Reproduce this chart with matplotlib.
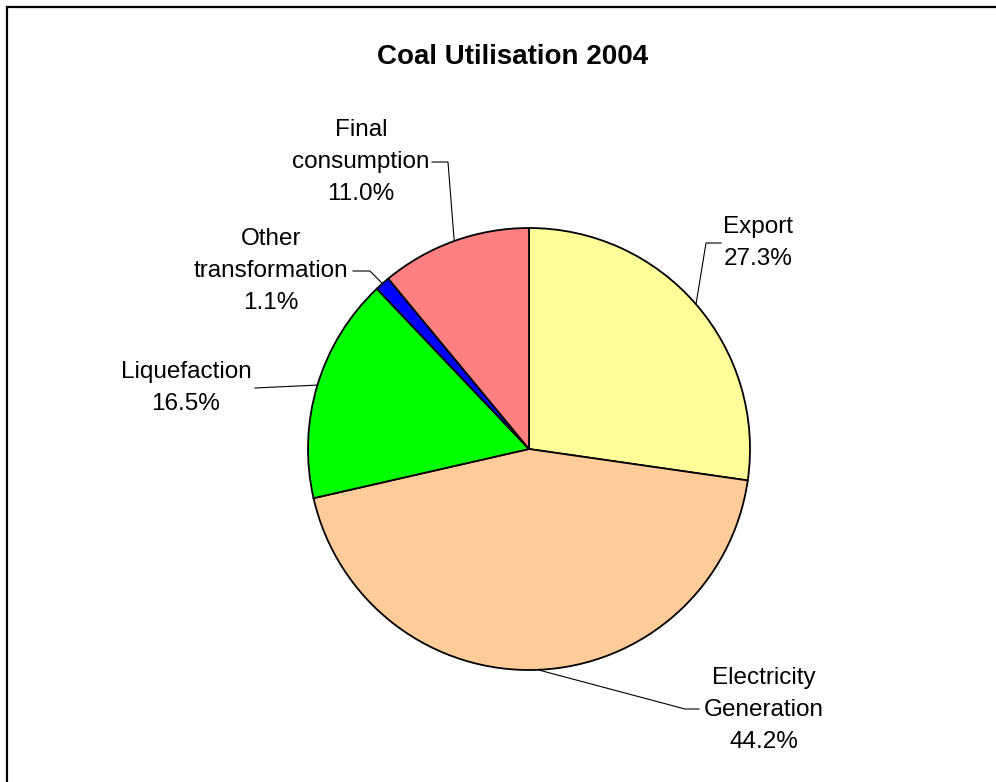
"""Coal Utilisation 2004 pie chart"""
import numpy as np
import matplotlib
matplotlib.use("Agg")
import matplotlib.pyplot as plt
from matplotlib.patches import Rectangle

categories = ["Export", "Electricity\nGeneration", "Liquefaction",
              "Other\ntransformation", "Final\nconsumption"]
shares = [27.3, 44.2, 16.5, 1.1, 11.0]
colors = ["#FFFF99", "#FFCC99", "#00FF00", "#0000FF", "#FF8080"]

W, H = 996, 782


def px(x, y):
    # pixel position (top-left origin) -> data coords
    return x, H - y


fig = plt.figure(figsize=(W / 100, H / 100), dpi=100)
ax = fig.add_axes([0, 0, 1, 1])

center = px(529, 449)
radius = 221
wedges, _ = ax.pie(shares, colors=colors, startangle=90, counterclock=False,
                   center=center, radius=radius, frame=True,
                   wedgeprops=dict(edgecolor="k", linewidth=1.3))
ax.set_xlim(0, W)
ax.set_ylim(0, H)
ax.axis("off")

# label centre, elbow point, end of horizontal tick
layout = [
    ((758, 243), (706, 243), (721, 243)),
    ((764, 710), (685, 709), (699, 709)),
    ((186, 388), (255, 388), (255, 388)),
    ((271, 271), (370, 271), (353, 271)),
    ((361, 162), (448, 162), (432, 162)),
]

font = dict(family=["Liberation Sans", "DejaVu Sans"], fontsize=17.5)
for w, name, share, (lab, elbow, tick) in zip(wedges, categories, shares,
                                              layout):
    mid = np.deg2rad((w.theta1 + w.theta2) / 2)
    x0 = center[0] + radius * np.cos(mid)
    y0 = center[1] + radius * np.sin(mid)
    ex, ey = px(*elbow)
    tx, ty = px(*tick)
    ax.plot([x0, ex, tx], [y0, ey, ty], color="k", lw=0.8,
            solid_joinstyle="miter")
    ax.text(*px(*lab), f"{name}\n{share:.1f}%", ha="center", va="center",
            linespacing=1.56, **font)

ax.text(*px(513, 57), "Coal Utilisation 2004", ha="center", va="center",
        fontsize=20, fontweight="bold", family=["Liberation Sans", "DejaVu Sans"])

ax.add_patch(Rectangle((7, -50), W + 50, H - 7 + 50, fill=False,
                       edgecolor="k", lw=1.6, clip_on=False))

fig.savefig("out.png", dpi=100)
